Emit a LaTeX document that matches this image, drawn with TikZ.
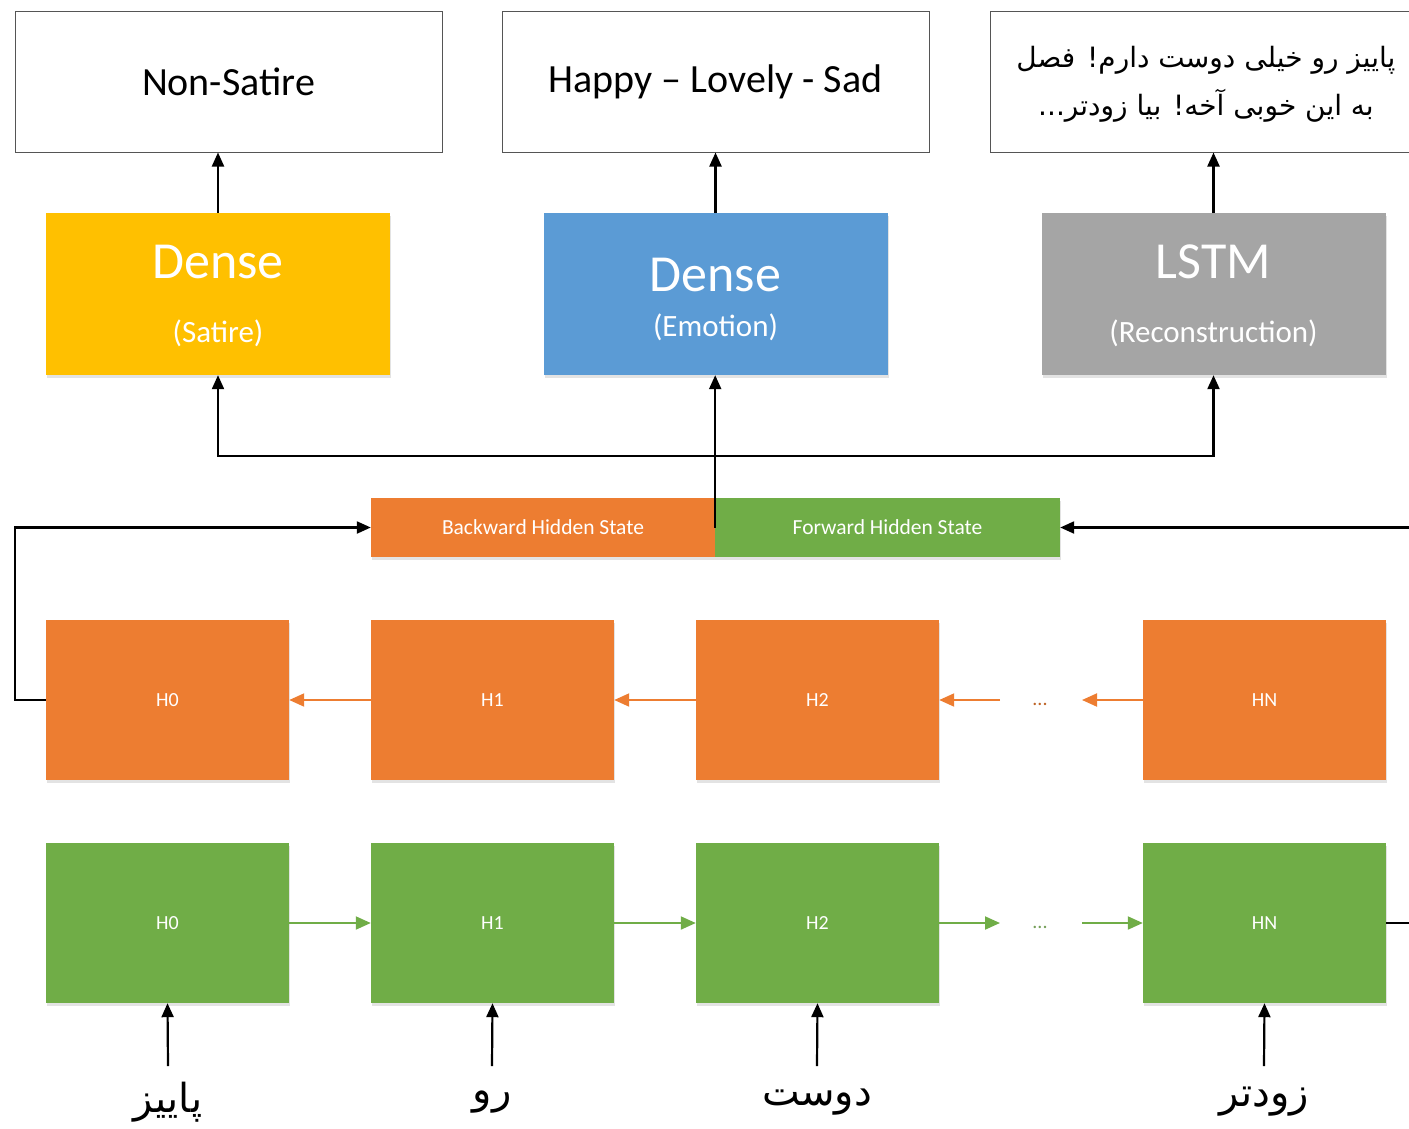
\documentclass[tikz,border=0pt]{standalone}
\usepackage{fontspec}
\setmainfont{Carlito}
\newfontfamily\arabicfont[Script=Arabic]{DejaVu Sans}
\TeXXeTstate=1
\usetikzlibrary{arrows.meta,shadows}

\definecolor{satGold}{HTML}{FFC000}
\definecolor{emoBlue}{HTML}{5B9BD5}
\definecolor{recGray}{HTML}{A5A5A5}
\definecolor{bwOrange}{HTML}{ED7D31}
\definecolor{fwGreen}{HTML}{70AD47}
\definecolor{frameGray}{HTML}{555555}

\tikzset{
  boxshadow/.style={drop shadow={shadow xshift=1pt,shadow yshift=-3pt,opacity=0.18,fill=black!60}},
  outbox/.style={draw=frameGray,line width=1pt,fill=white,minimum width=427pt,minimum height=141pt,inner sep=0pt},
  headbox/.style={minimum width=344pt,minimum height=162pt,inner sep=0pt,boxshadow},
  cellbox/.style={minimum width=243pt,minimum height=160pt,inner sep=0pt,boxshadow,
    text=white,font=\fontsize{20}{24}\selectfont},
  statebox/.style={minimum height=59pt,inner sep=0pt,boxshadow,text=white,font=\fontsize{21.5}{26}\selectfont},
  bigtxt/.style={text=white,font=\fontsize{52}{60}\selectfont,inner sep=0pt},
  subtxt/.style={text=white,font=\fontsize{31}{36}\selectfont,inner sep=0pt},
  outtxt/.style={font=\fontsize{40}{48}\selectfont,inner sep=0pt},
  arr/.style={line width=2.2pt,-{Triangle[length=14pt,width=12pt]}},
  orarr/.style={draw=bwOrange,line width=2pt,-{Triangle[length=15pt,width=13pt]}},
  grarr/.style={draw=fwGreen,line width=2pt,-{Triangle[length=15pt,width=13pt]}},
  dotstxt/.style={font=\fontsize{20}{24}\selectfont,inner sep=0pt},
  wordtxt/.style={font=\arabicfont\fontsize{40}{48}\selectfont,inner sep=0pt},
}

\begin{document}
\begin{tikzpicture}[x=1pt,y=-1pt]
\useasboundingbox (0,0) rectangle (1409,1128);

% output boxes
\node[outbox] (out1) at (228.5,81.5) {};
\node[outtxt] (out1t) at (228.5,81.5) {Non-Satire};
\node[outbox] (out2) at (715.5,81.5) {};
\node[outtxt] (out2t) at (715.5,81.5) {Happy -- Lovely - Sad};
\node[outbox] (out3) at (1203.5,81.5) {};
\node[align=center,inner sep=0pt,font=\arabicfont\fontsize{28}{48}\selectfont] (out3t) at (1206,84)
  {\beginR پاییز رو خیلی دوست دارم! فصل\endR\\ \beginR به این خوبی آخه! بیا زودتر...\endR};

% task heads
\node[headbox,fill=satGold] (dense1) at (218,294) {};
\node[bigtxt] (dense1a) at (218,262) {Dense};
\node[subtxt] (dense1b) at (218,333) {(Satire)};
\node[headbox,fill=emoBlue] (dense2) at (715.5,294) {};
\node[bigtxt] (dense2a) at (715.5,275) {Dense};
\node[subtxt] (dense2b) at (715.5,327) {(Emotion)};
\node[headbox,fill=recGray] (lstm) at (1213.5,294) {};
\node[bigtxt] (lstma) at (1213.5,262) {LSTM};
\node[subtxt] (lstmb) at (1213.5,333) {(Reconstruction)};

% concatenated hidden state
\node[statebox,fill=bwOrange,minimum width=344pt] (bws) at (543,527.5) {Backward Hidden State};
\node[statebox,fill=fwGreen,minimum width=345pt] (fws) at (887.5,527.5) {Forward Hidden State};

% backward cells
\node[cellbox,fill=bwOrange] (oH0) at (167.5,700) {H0};
\node[cellbox,fill=bwOrange] (oH1) at (492.5,700) {H1};
\node[cellbox,fill=bwOrange] (oH2) at (817.5,700) {H2};
\node[cellbox,fill=bwOrange] (oHN) at (1264.5,700) {HN};
\node[dotstxt,text=bwOrange!80!black] (odots) at (1040,704) {...};
\coordinate (oL) at (1000,700);
\coordinate (oR) at (1082,700);

% forward cells
\node[cellbox,fill=fwGreen] (gH0) at (167.5,923) {H0};
\node[cellbox,fill=fwGreen] (gH1) at (492.5,923) {H1};
\node[cellbox,fill=fwGreen] (gH2) at (817.5,923) {H2};
\node[cellbox,fill=fwGreen] (gHN) at (1264.5,923) {HN};
\node[dotstxt,text=fwGreen!70!gray] (gdots) at (1040,927) {...};
\coordinate (gL) at (1000,923);
\coordinate (gR) at (1082,923);

% input words
\node[wordtxt] (w0) at (168,1102) {\beginR پاییز\endR};
\node[wordtxt] (w1) at (492,1102) {\beginR رو\endR};
\node[wordtxt] (w2) at (817,1102) {\beginR دوست\endR};
\node[wordtxt] (w3) at (1264,1102) {\beginR زودتر\endR};
\coordinate (i0) at (168,1066);
\coordinate (i1) at (492,1066);
\coordinate (i2) at (817,1066);
\coordinate (i3) at (1264,1066);

% heads to outputs
\draw[arr] (dense1.north) -- (out1.south -| dense1.north);
\draw[arr] (dense2.north) -- (out2.south -| dense2.north);
\draw[arr] (lstm.north) -- (out3.south -| lstm.north);

% shared state to heads
\coordinate (junc) at (715.5,456);
\draw[arr] (junc) -| (dense1.south);
\draw[arr] (junc) -| (lstm.south);
\draw[arr] (bws.east) -- (bws.east |- dense2.south);

% final states into the concatenation
\draw[arr] (oH0.west) -- ++(-31,0) |- (bws.west);
\draw[arr] (gHN.east) -- ++(60,0) |- (fws.east);

% recurrent links
\draw[orarr] (oH1.west) -- (oH0.east);
\draw[orarr] (oH2.west) -- (oH1.east);
\draw[orarr] (oL) -- (oH2.east);
\draw[orarr] (oHN.west) -- (oR);
\draw[grarr] (gH0.east) -- (gH1.west);
\draw[grarr] (gH1.east) -- (gH2.west);
\draw[grarr] (gH2.east) -- (gL);
\draw[grarr] (gR) -- (gHN.west);

% inputs
\draw[arr] (i0) -- (gH0.south);
\draw[arr] (i1) -- (gH1.south);
\draw[arr] (i2) -- (gH2.south);
\draw[arr] (i3) -- (gHN.south);
\end{tikzpicture}
\end{document}
